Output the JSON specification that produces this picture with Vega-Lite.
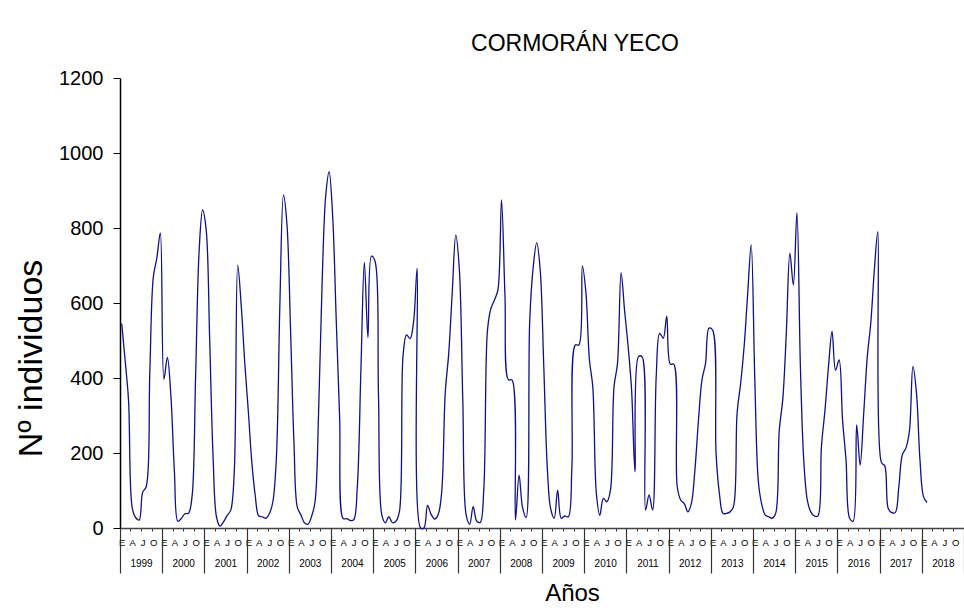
{
  "$schema": "https://vega.github.io/schema/vega-lite/v6.json",
  "width": 844,
  "height": 450,
  "autosize": {"type": "none"},
  "padding": {"left": 120, "top": 78, "right": 0, "bottom": 86},
  "background": "white",
  "config": {
    "view": {"stroke": null},
    "font": "Liberation Sans",
    "axis": {"labelFont": "Liberation Sans", "titleFont": "Liberation Sans", "labelColor": "black", "titleColor": "black", "titleFontWeight": "normal", "domainColor": "#333333", "tickColor": "#333333"}
  },
  "title": {"text": "CORMORÁN YECO", "fontSize": 23, "font": "Liberation Sans", "fontWeight": "normal", "color": "black", "anchor": "middle", "dx": 33, "offset": 12},
  "data": {"values": []},
  "datasets": {
    "cormoran": [
      {"fecha": "1999-01-16", "n": 545}, {"fecha": "1999-02-15", "n": 445}, {"fecha": "1999-03-16", "n": 340}, {"fecha": "1999-04-16", "n": 55}, {"fecha": "1999-05-16", "n": 28}, {"fecha": "1999-06-16", "n": 21}, {"fecha": "1999-07-16", "n": 95}, {"fecha": "1999-08-16", "n": 110}, {"fecha": "1999-09-16", "n": 415}, {"fecha": "1999-10-16", "n": 668}, {"fecha": "1999-11-16", "n": 720}, {"fecha": "1999-12-16", "n": 787},
      {"fecha": "2000-01-16", "n": 397}, {"fecha": "2000-02-15", "n": 455}, {"fecha": "2000-03-16", "n": 355}, {"fecha": "2000-04-16", "n": 150}, {"fecha": "2000-05-16", "n": 18}, {"fecha": "2000-06-16", "n": 26}, {"fecha": "2000-07-16", "n": 38}, {"fecha": "2000-08-16", "n": 39}, {"fecha": "2000-09-16", "n": 85}, {"fecha": "2000-10-16", "n": 400}, {"fecha": "2000-11-16", "n": 740}, {"fecha": "2000-12-16", "n": 848},
      {"fecha": "2001-01-16", "n": 795}, {"fecha": "2001-02-15", "n": 505}, {"fecha": "2001-03-16", "n": 195}, {"fecha": "2001-04-16", "n": 28}, {"fecha": "2001-05-16", "n": 5}, {"fecha": "2001-06-16", "n": 17}, {"fecha": "2001-07-16", "n": 33}, {"fecha": "2001-08-16", "n": 47}, {"fecha": "2001-09-16", "n": 150}, {"fecha": "2001-10-16", "n": 701}, {"fecha": "2001-11-16", "n": 590}, {"fecha": "2001-12-16", "n": 440},
      {"fecha": "2002-01-16", "n": 310}, {"fecha": "2002-02-15", "n": 175}, {"fecha": "2002-03-16", "n": 88}, {"fecha": "2002-04-16", "n": 32}, {"fecha": "2002-05-16", "n": 30}, {"fecha": "2002-06-16", "n": 26}, {"fecha": "2002-07-16", "n": 38}, {"fecha": "2002-08-16", "n": 70}, {"fecha": "2002-09-16", "n": 190}, {"fecha": "2002-10-16", "n": 600}, {"fecha": "2002-11-16", "n": 888}, {"fecha": "2002-12-16", "n": 810},
      {"fecha": "2003-01-16", "n": 530}, {"fecha": "2003-02-15", "n": 225}, {"fecha": "2003-03-16", "n": 55}, {"fecha": "2003-04-16", "n": 35}, {"fecha": "2003-05-16", "n": 14}, {"fecha": "2003-06-16", "n": 10}, {"fecha": "2003-07-16", "n": 30}, {"fecha": "2003-08-16", "n": 70}, {"fecha": "2003-09-16", "n": 310}, {"fecha": "2003-10-16", "n": 650}, {"fecha": "2003-11-16", "n": 884}, {"fecha": "2003-12-16", "n": 950},
      {"fecha": "2004-01-16", "n": 830}, {"fecha": "2004-02-15", "n": 560}, {"fecha": "2004-03-16", "n": 295}, {"fecha": "2004-04-16", "n": 25}, {"fecha": "2004-05-16", "n": 25}, {"fecha": "2004-06-16", "n": 20}, {"fecha": "2004-07-16", "n": 22}, {"fecha": "2004-08-16", "n": 110}, {"fecha": "2004-09-16", "n": 420}, {"fecha": "2004-10-16", "n": 708}, {"fecha": "2004-11-16", "n": 508}, {"fecha": "2004-12-16", "n": 725},
      {"fecha": "2005-01-16", "n": 712}, {"fecha": "2005-02-15", "n": 360}, {"fecha": "2005-03-16", "n": 35}, {"fecha": "2005-04-16", "n": 14}, {"fecha": "2005-05-16", "n": 30}, {"fecha": "2005-06-16", "n": 14}, {"fecha": "2005-07-16", "n": 18}, {"fecha": "2005-08-16", "n": 45}, {"fecha": "2005-09-16", "n": 460}, {"fecha": "2005-10-16", "n": 515}, {"fecha": "2005-11-16", "n": 505}, {"fecha": "2005-12-16", "n": 550},
      {"fecha": "2006-01-16", "n": 692}, {"fecha": "2006-02-15", "n": 0}, {"fecha": "2006-03-16", "n": 0}, {"fecha": "2006-04-16", "n": 60}, {"fecha": "2006-05-16", "n": 37}, {"fecha": "2006-06-16", "n": 24}, {"fecha": "2006-07-16", "n": 35}, {"fecha": "2006-08-16", "n": 95}, {"fecha": "2006-09-16", "n": 360}, {"fecha": "2006-10-16", "n": 465}, {"fecha": "2006-11-16", "n": 630}, {"fecha": "2006-12-16", "n": 781},
      {"fecha": "2007-01-16", "n": 690}, {"fecha": "2007-02-15", "n": 340}, {"fecha": "2007-03-16", "n": 35}, {"fecha": "2007-04-16", "n": 10}, {"fecha": "2007-05-16", "n": 57}, {"fecha": "2007-06-16", "n": 18}, {"fecha": "2007-07-16", "n": 15}, {"fecha": "2007-08-16", "n": 105}, {"fecha": "2007-09-16", "n": 525}, {"fecha": "2007-10-16", "n": 585}, {"fecha": "2007-11-16", "n": 608}, {"fecha": "2007-12-16", "n": 635},
      {"fecha": "2008-01-16", "n": 875}, {"fecha": "2008-02-15", "n": 620}, {"fecha": "2008-03-16", "n": 395}, {"fecha": "2008-04-16", "n": 395}, {"fecha": "2008-05-16", "n": 21}, {"fecha": "2008-06-16", "n": 141}, {"fecha": "2008-07-16", "n": 55}, {"fecha": "2008-08-16", "n": 28}, {"fecha": "2008-09-16", "n": 550}, {"fecha": "2008-10-16", "n": 695}, {"fecha": "2008-11-16", "n": 761}, {"fecha": "2008-12-16", "n": 688},
      {"fecha": "2009-01-16", "n": 430}, {"fecha": "2009-02-15", "n": 163}, {"fecha": "2009-03-16", "n": 52}, {"fecha": "2009-04-16", "n": 26}, {"fecha": "2009-05-16", "n": 101}, {"fecha": "2009-06-16", "n": 26}, {"fecha": "2009-07-16", "n": 32}, {"fecha": "2009-08-16", "n": 30}, {"fecha": "2009-09-16", "n": 160}, {"fecha": "2009-10-16", "n": 488}, {"fecha": "2009-11-16", "n": 488}, {"fecha": "2009-12-16", "n": 699},
      {"fecha": "2010-01-16", "n": 626}, {"fecha": "2010-02-15", "n": 448}, {"fecha": "2010-03-16", "n": 377}, {"fecha": "2010-04-16", "n": 92}, {"fecha": "2010-05-16", "n": 34}, {"fecha": "2010-06-16", "n": 79}, {"fecha": "2010-07-16", "n": 70}, {"fecha": "2010-08-16", "n": 101}, {"fecha": "2010-09-16", "n": 377}, {"fecha": "2010-10-16", "n": 439}, {"fecha": "2010-11-16", "n": 681}, {"fecha": "2010-12-16", "n": 581},
      {"fecha": "2011-01-16", "n": 484}, {"fecha": "2011-02-15", "n": 368}, {"fecha": "2011-03-16", "n": 150}, {"fecha": "2011-04-16", "n": 457}, {"fecha": "2011-05-16", "n": 457}, {"fecha": "2011-06-16", "n": 48}, {"fecha": "2011-07-16", "n": 88}, {"fecha": "2011-08-16", "n": 48}, {"fecha": "2011-09-16", "n": 404}, {"fecha": "2011-10-16", "n": 519}, {"fecha": "2011-11-16", "n": 506}, {"fecha": "2011-12-16", "n": 565},
      {"fecha": "2012-01-16", "n": 437}, {"fecha": "2012-02-15", "n": 437}, {"fecha": "2012-03-16", "n": 110}, {"fecha": "2012-04-16", "n": 74}, {"fecha": "2012-05-16", "n": 65}, {"fecha": "2012-06-16", "n": 43}, {"fecha": "2012-07-16", "n": 65}, {"fecha": "2012-08-16", "n": 155}, {"fecha": "2012-09-16", "n": 288}, {"fecha": "2012-10-16", "n": 395}, {"fecha": "2012-11-16", "n": 439}, {"fecha": "2012-12-16", "n": 533},
      {"fecha": "2013-01-16", "n": 528}, {"fecha": "2013-02-15", "n": 199}, {"fecha": "2013-03-16", "n": 92}, {"fecha": "2013-04-16", "n": 39}, {"fecha": "2013-05-16", "n": 39}, {"fecha": "2013-06-16", "n": 43}, {"fecha": "2013-07-16", "n": 57}, {"fecha": "2013-08-16", "n": 306}, {"fecha": "2013-09-16", "n": 386}, {"fecha": "2013-10-16", "n": 484}, {"fecha": "2013-11-16", "n": 626}, {"fecha": "2013-12-16", "n": 755},
      {"fecha": "2014-01-16", "n": 400}, {"fecha": "2014-02-15", "n": 128}, {"fecha": "2014-03-16", "n": 65}, {"fecha": "2014-04-16", "n": 35}, {"fecha": "2014-05-16", "n": 30}, {"fecha": "2014-06-16", "n": 26}, {"fecha": "2014-07-16", "n": 39}, {"fecha": "2014-08-16", "n": 260}, {"fecha": "2014-09-16", "n": 345}, {"fecha": "2014-10-16", "n": 519}, {"fecha": "2014-11-16", "n": 733}, {"fecha": "2014-12-16", "n": 648},
      {"fecha": "2015-01-16", "n": 841}, {"fecha": "2015-02-15", "n": 430}, {"fecha": "2015-03-16", "n": 181}, {"fecha": "2015-04-16", "n": 74}, {"fecha": "2015-05-16", "n": 43}, {"fecha": "2015-06-16", "n": 32}, {"fecha": "2015-07-16", "n": 32}, {"fecha": "2015-08-16", "n": 217}, {"fecha": "2015-09-16", "n": 315}, {"fecha": "2015-10-16", "n": 430}, {"fecha": "2015-11-16", "n": 524}, {"fecha": "2015-12-16", "n": 421},
      {"fecha": "2016-01-16", "n": 448}, {"fecha": "2016-02-15", "n": 287}, {"fecha": "2016-03-16", "n": 181}, {"fecha": "2016-04-16", "n": 26}, {"fecha": "2016-05-16", "n": 18}, {"fecha": "2016-06-16", "n": 275}, {"fecha": "2016-07-16", "n": 168}, {"fecha": "2016-08-16", "n": 306}, {"fecha": "2016-09-16", "n": 457}, {"fecha": "2016-10-16", "n": 546}, {"fecha": "2016-11-16", "n": 688}, {"fecha": "2016-12-16", "n": 790},
      {"fecha": "2017-01-16", "n": 175}, {"fecha": "2017-02-15", "n": 165}, {"fecha": "2017-03-16", "n": 52}, {"fecha": "2017-04-16", "n": 41}, {"fecha": "2017-05-16", "n": 41}, {"fecha": "2017-06-16", "n": 110}, {"fecha": "2017-07-16", "n": 195}, {"fecha": "2017-08-16", "n": 213}, {"fecha": "2017-09-16", "n": 260}, {"fecha": "2017-10-16", "n": 431}, {"fecha": "2017-11-16", "n": 359}, {"fecha": "2017-12-16", "n": 181},
      {"fecha": "2018-01-16", "n": 83}, {"fecha": "2018-02-15", "n": 68}
    ]
  },
  "encoding": {
    "y": {
      "field": "n", "type": "quantitative",
      "scale": {"domain": [0, 1200], "nice": false, "zero": true},
      "axis": {"values": [0, 200, 400, 600, 800, 1000, 1200], "format": "d", "grid": false, "labelFontSize": 20, "labelPadding": 10, "tickSize": 7, "domainColor": "black", "tickColor": "black", "domainWidth": 1.5, "title": "Nº individuos", "titleFontSize": 34, "titlePadding": 10, "titleY": 280}
    }
  },
  "layer": [
    {
      "data": {"name": "cormoran"},
      "mark": {"type": "line", "color": "#10108a", "strokeWidth": 1.3, "interpolate": "catmull-rom"},
      "encoding": {
        "x": {
          "field": "fecha", "type": "temporal",
          "scale": {"type": "utc", "domain": [{"year": 1999, "month": 1, "date": 1, "utc": true}, {"year": 2019, "month": 1, "date": 1, "utc": true}], "nice": false},
          "axis": {"orient": "bottom", "tickCount": {"interval": "month", "step": 3}, "labelOverlap": false, "labelFlush": false, "labelBound": false, "labelExpr": "utcyear(datum.value) > 2018 ? '' : ['E','','','A','','','J','','','O','',''][utcmonth(datum.value)]", "labelFontSize": 9.5, "labelOffset": 1.75, "labelPadding": 6, "tickSize": 3, "domainColor": "#444444", "domainWidth": 1.5, "title": null, "grid": false}
        }
      }
    },
    {
      "data": {"name": "cormoran"},
      "mark": {"type": "line", "opacity": 0},
      "encoding": {
        "x": {
          "field": "fecha", "type": "temporal",
          "scale": {"type": "utc", "domain": [{"year": 1999, "month": 1, "date": 1, "utc": true}, {"year": 2019, "month": 1, "date": 1, "utc": true}], "nice": false},
          "axis": {"orient": "bottom", "tickCount": {"interval": "year", "step": 1}, "labelOverlap": false, "labelFlush": false, "labelBound": false, "labelExpr": "utcyear(datum.value) > 2018 ? '' : '' + utcyear(datum.value)", "labelFontSize": 10, "labelOffset": 21, "labelPadding": -15, "tickSize": 45, "tickColor": "#333333", "tickWidth": 1.2, "domain": false, "title": "Años", "titleFontSize": 24, "titlePadding": 8, "titleX": 452, "grid": false}
        }
      }
    }
  ],
  "resolve": {"axis": {"x": "independent"}}
}
